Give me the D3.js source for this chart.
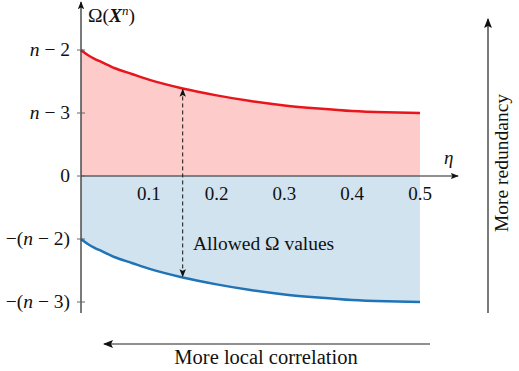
<!DOCTYPE html>
<html>
<head>
<meta charset="utf-8">
<script src="https://cdn.jsdelivr.net/npm/d3@7"></script>
<style>
  body { margin: 0; background: #fff; }
  .lineaEje { stroke: #222; stroke-width: 1.2; fill: none; }
</style>
</head>
<body>
<div id="grafico"></div>
<script>
// eta values read along the horizontal axis
var etas = [0, 0.01, 0.02, 0.03, 0.05, 0.075, 0.1, 0.15, 0.2, 0.25, 0.3, 0.35, 0.4, 0.45, 0.5];
// upper (red) bound, in units where 2 = "n-2", 1 = "n-3"
var cotaSup = [2, 1.92, 1.86, 1.81, 1.71, 1.62, 1.53, 1.39, 1.28, 1.19, 1.12, 1.07, 1.03, 1.01, 1.0];
// lower (blue) bound, -1 = "-(n-2)", -2 = "-(n-3)"
var cotaInf = [-1, -1.08, -1.14, -1.19, -1.29, -1.38, -1.47, -1.61, -1.72, -1.81, -1.88, -1.93, -1.97, -1.99, -2.0];

var ticksY = [2, 1, 0, -1, -2];
var etiquetasY = [["n", " − 2"], ["n", " − 3"], ["", "0"], ["−(", "n", " − 2)"], ["−(", "n", " − 3)"]];
var ticksX = [0.1, 0.2, 0.3, 0.4, 0.5];
var etaFlecha = 0.15;

var W = 519, H = 371;
var fuente = "'Liberation Serif', 'Times New Roman', serif";
var svg = d3.select("#grafico").append("svg")
  .attr("width", W).attr("height", H)
  .style("font-family", fuente);

var defs = svg.append("defs");
defs.append("marker").attr("id", "punta")
  .attr("viewBox", "0 0 10 10").attr("refX", 9).attr("refY", 5)
  .attr("markerWidth", 8).attr("markerHeight", 8)
  .attr("markerUnits", "userSpaceOnUse")
  .attr("orient", "auto-start-reverse")
  .append("path").attr("d", "M0,1 L10,5 L0,9 L2,5 Z").attr("fill", "#111");
defs.append("marker").attr("id", "puntaGrande")
  .attr("viewBox", "0 0 10 10").attr("refX", 9).attr("refY", 5)
  .attr("markerWidth", 10).attr("markerHeight", 10)
  .attr("markerUnits", "userSpaceOnUse")
  .attr("orient", "auto")
  .append("path").attr("d", "M0,1 L10,5 L0,9 L2,5 Z").attr("fill", "#111");

var x = d3.scaleLinear().domain([0, 0.5]).range([81, 420]);
var y = d3.scaleLinear().domain([-2, 2]).range([302, 50]);

var datos = etas.map(function(e, i){ return {eta: e, sup: cotaSup[i], inf: cotaInf[i]}; });

/* areas */
var areaSup = d3.area().x(function(d){ return x(d.eta); })
  .y0(y(0)).y1(function(d){ return y(d.sup); }).curve(d3.curveMonotoneX);
var areaInf = d3.area().x(function(d){ return x(d.eta); })
  .y0(y(0)).y1(function(d){ return y(d.inf); }).curve(d3.curveMonotoneX);

svg.append("path").datum(datos).attr("d", areaSup).attr("fill", "#fecbcb");
svg.append("path").datum(datos).attr("d", areaInf).attr("fill", "#d0e3ef");

var lineaSup = d3.line().x(function(d){ return x(d.eta); })
  .y(function(d){ return y(d.sup); }).curve(d3.curveMonotoneX);
var lineaInf = d3.line().x(function(d){ return x(d.eta); })
  .y(function(d){ return y(d.inf); }).curve(d3.curveMonotoneX);

svg.append("path").datum(datos).attr("d", lineaSup)
  .attr("fill", "none").attr("stroke", "#e8161c").attr("stroke-width", 2.5);
svg.append("path").datum(datos).attr("d", lineaInf)
  .attr("fill", "none").attr("stroke", "#1f73b7").attr("stroke-width", 2.5);

/* flecha punteada */
var iF = etas.indexOf(etaFlecha);
svg.append("line")
  .attr("x1", x(etaFlecha)).attr("x2", x(etaFlecha))
  .attr("y1", y(cotaSup[iF]) + 1).attr("y2", y(cotaInf[iF]) - 1)
  .attr("stroke", "#111").attr("stroke-width", 1)
  .attr("stroke-dasharray", "4,3")
  .attr("marker-start", "url(#punta)").attr("marker-end", "url(#punta)");

svg.append("text").attr("x", 193).attr("y", 250)
  .attr("font-size", 19.5).attr("fill", "#111").text("Allowed Ω values");

/* ejes */
svg.append("line").attr("class", "lineaEje")
  .attr("x1", x(0)).attr("x2", 458).attr("y1", y(0)).attr("y2", y(0))
  .attr("marker-end", "url(#punta)");
svg.append("line").attr("class", "lineaEje")
  .attr("x1", x(0)).attr("x2", x(0)).attr("y1", 313).attr("y2", 2)
  .attr("marker-end", "url(#punta)");

var ejeY = svg.append("g").selectAll(".tickY").data(ticksY).enter().append("g")
  .attr("transform", function(d){ return "translate(" + x(0) + "," + y(d) + ")"; });
ejeY.append("line").attr("x1", -4).attr("x2", 4)
  .attr("stroke", "#666").attr("stroke-width", 1);
ejeY.append("text").attr("x", -11).attr("dy", "0.33em")
  .attr("text-anchor", "end").attr("font-size", 19.5).attr("fill", "#111")
  .each(function(d, i){
    var t = d3.select(this);
    etiquetasY[i].forEach(function(p){
      if (p === "") return;
      t.append("tspan").attr("font-style", p === "n" ? "italic" : "normal").text(p);
    });
  });

svg.append("g").selectAll(".tickX").data(ticksX).enter().append("text")
  .attr("x", function(d){ return x(d); }).attr("y", 200)
  .attr("text-anchor", "middle").attr("font-size", 19).attr("fill", "#111")
  .text(function(d){ return d3.format(".1f")(d); });

svg.append("text").attr("x", 444).attr("y", 164).attr("fill", "#111")
  .attr("font-size", 19).attr("font-style", "italic").text("η");

var tituloY = svg.append("text").attr("x", 88).attr("y", 22)
  .attr("font-size", 19.5).attr("fill", "#111");
tituloY.append("tspan").text("Ω(");
tituloY.append("tspan").attr("font-weight", "bold").attr("font-style", "italic").text("X");
tituloY.append("tspan").attr("font-style", "italic").attr("font-size", 13).attr("dy", -7).text("n");
tituloY.append("tspan").attr("dy", 7).text(")");

/* flechas laterales */
svg.append("line").attr("class", "lineaEje")
  .attr("x1", 430).attr("x2", 104).attr("y1", 344).attr("y2", 344)
  .attr("stroke-width", 1.6).attr("marker-end", "url(#puntaGrande)");
svg.append("text").attr("x", 266).attr("y", 364).attr("fill", "#111")
  .attr("text-anchor", "middle").attr("font-size", 20.5).text("More local correlation");

svg.append("line").attr("class", "lineaEje")
  .attr("x1", 488).attr("x2", 488).attr("y1", 313).attr("y2", 19)
  .attr("stroke-width", 1.6).attr("marker-end", "url(#puntaGrande)");
svg.append("text").attr("transform", "translate(508,163) rotate(-90)").attr("fill", "#111")
  .attr("text-anchor", "middle").attr("font-size", 19.5).text("More redundancy");
</script>
</body>
</html>
